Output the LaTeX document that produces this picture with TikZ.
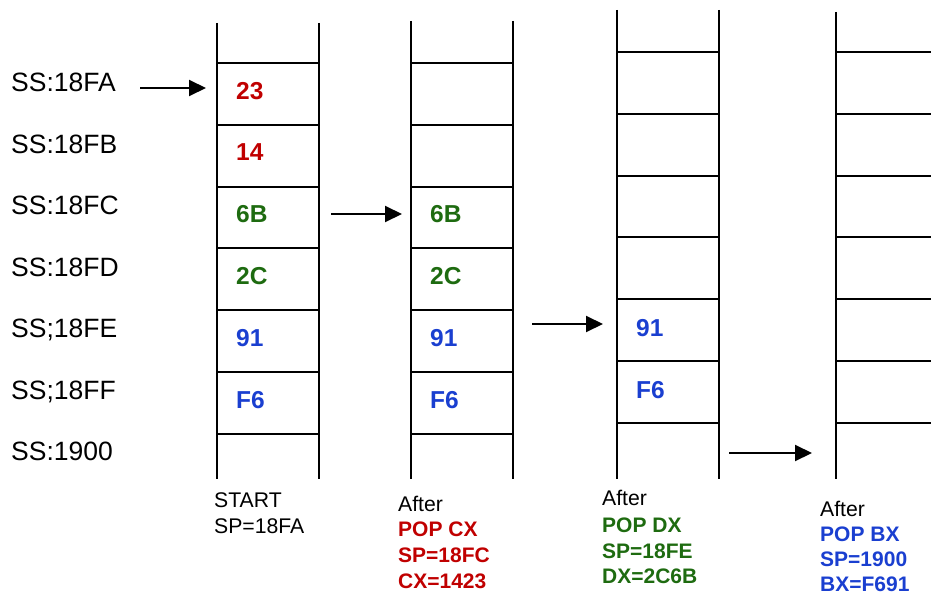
\documentclass[tikz,border=0pt]{standalone}
\usepackage{fontspec}
\setmainfont{Liberation Sans}
\usetikzlibrary{arrows.meta}
\definecolor{popred}{HTML}{C00000}
\definecolor{popgreen}{HTML}{1E6B10}
\definecolor{popblue}{HTML}{1A3FD0}
\begin{document}
\begin{tikzpicture}[x=1pt,y=-1pt,
  wall/.style={line width=2pt},
  shelf/.style={line width=2pt},
  addr/.style={font=\fontsize{26.5}{30}\selectfont, anchor=base west, inner sep=0pt},
  cellval/.style={font=\bfseries\fontsize{24.5}{28}\selectfont, anchor=base west, inner sep=0pt},
  capline/.style={font=\fontsize{21.2}{24}\selectfont, anchor=base west, inner sep=0pt},
  capbold/.style={capline, font=\bfseries\fontsize{21}{24}\selectfont},
  ptr/.style={line width=2pt, -{Triangle[length=17pt,width=16pt]}}]
\useasboundingbox (0,0) rectangle (931,594);

% address labels
\node[addr] (a1) at (11,92) {SS:18FA};
\node[addr] (a2) at (11,153) {SS:18FB};
\node[addr] (a3) at (11,214.5) {SS:18FC};
\node[addr] (a4) at (11,276) {SS:18FD};
\node[addr] (a5) at (11,337.5) {SS;18FE};
\node[addr] (a6) at (11,399) {SS;18FF};
\node[addr] (a7) at (11,460.5) {SS:1900};

% stack 1: start
\draw[wall] (217,23) -- (217,479);
\draw[wall] (319,23) -- (319,479);
\foreach \k in {0,...,6} \draw[shelf] (217,{63+61.8*\k}) -- (319,{63+61.8*\k});
\node[cellval, popred]   (s1c1) at (236,99) {23};
\node[cellval, popred]   (s1c2) at (236,160.8) {14};
\node[cellval, popgreen] (s1c3) at (236,222.6) {6B};
\node[cellval, popgreen] (s1c4) at (236,284.4) {2C};
\node[cellval, popblue]  (s1c5) at (236,346.2) {91};
\node[cellval, popblue]  (s1c6) at (236,408) {F6};

% stack 2: after POP CX
\draw[wall] (411,21) -- (411,479);
\draw[wall] (513,21) -- (513,479);
\foreach \k in {0,...,6} \draw[shelf] (411,{63+61.8*\k}) -- (513,{63+61.8*\k});
\node[cellval, popgreen] (s2c3) at (430,222.6) {6B};
\node[cellval, popgreen] (s2c4) at (430,284.4) {2C};
\node[cellval, popblue]  (s2c5) at (430,346.2) {91};
\node[cellval, popblue]  (s2c6) at (430,408) {F6};

% stack 3: after POP DX
\draw[wall] (617,10) -- (617,479);
\draw[wall] (719,10) -- (719,479);
\foreach \k in {0,...,6} \draw[shelf] (617,{52+61.83*\k}) -- (719,{52+61.83*\k});
\node[cellval, popblue] (s3c5) at (636,336.7) {91};
\node[cellval, popblue] (s3c6) at (636,398.5) {F6};

% stack 4: after POP BX
\draw[wall] (836,12) -- (836,479);
\foreach \k in {0,...,6} \draw[shelf] (836,{52+61.83*\k}) -- (931,{52+61.83*\k});

% stack pointer arrows
\coordinate (p1s) at (140,88);  \coordinate (p1e) at (206,88);
\coordinate (p2s) at (331,214); \coordinate (p2e) at (402,214);
\coordinate (p3s) at (532,324); \coordinate (p3e) at (603,324);
\coordinate (p4s) at (729,453); \coordinate (p4e) at (812,453);
\draw[ptr] (p1s) -- (p1e);
\draw[ptr] (p2s) -- (p2e);
\draw[ptr] (p3s) -- (p3e);
\draw[ptr] (p4s) -- (p4e);

% captions
\node[capline] (t1a) at (214,507) {START};
\node[capline] (t1b) at (214,533) {SP=18FA};

\node[capline] (t2a) at (398,511.7) {After};
\node[capbold, popred] (t2b) at (398,536.7) {POP CX};
\node[capbold, popred] (t2c) at (398,562.5) {SP=18FC};
\node[capbold, popred] (t2d) at (398,588) {CX=1423};

\node[capline] (t3a) at (602,505) {After};
\node[capbold, popgreen] (t3b) at (602,532) {POP DX};
\node[capbold, popgreen] (t3c) at (602,558) {SP=18FE};
\node[capbold, popgreen] (t3d) at (602,583.3) {DX=2C6B};

\node[capline] (t4a) at (820,516) {After};
\node[capbold, popblue] (t4b) at (820,541.5) {POP BX};
\node[capbold, popblue] (t4c) at (820,566.5) {SP=1900};
\node[capbold, popblue] (t4d) at (820,591) {BX=F691};
\end{tikzpicture}
\end{document}
